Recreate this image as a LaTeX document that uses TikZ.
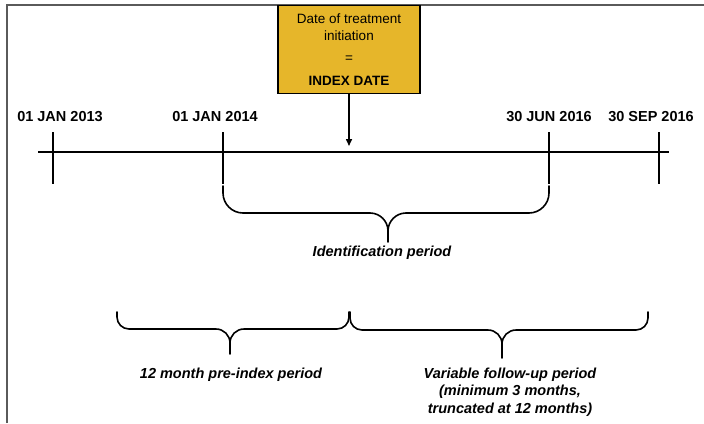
\documentclass[tikz,border=0pt]{standalone}
\usepackage{fontspec}
\setmainfont{Liberation Sans}
\usetikzlibrary{arrows.meta}
\definecolor{indexgold}{RGB}{230,182,42}
\definecolor{framegray}{RGB}{90,90,90}

% Curly brace with upturned ends and a downward point:
% #1 left x, #2 middle x, #3 right x, #4 end y, #5 bar y, #6 tip y,
% #7 end radius, #8 middle radius
\newcommand\periodbrace[8]{%
  \draw[bracepath]
    (#1,#4) -- ({#1},{#5-#7})
      .. controls ({#1},{#5-0.45*#7}) and ({#1+0.45*#7},{#5}) .. ({#1+#7},{#5})
      -- ({#2-#8},{#5})
      .. controls ({#2-0.45*#8},{#5}) and ({#2},{#5+0.45*#8}) .. ({#2},{#5+#8})
      -- (#2,#6)
    (#3,#4) -- ({#3},{#5-#7})
      .. controls ({#3},{#5-0.45*#7}) and ({#3-0.45*#7},{#5}) .. ({#3-#7},{#5})
      -- ({#2+#8},{#5})
      .. controls ({#2+0.45*#8},{#5}) and ({#2},{#5+0.45*#8}) .. ({#2},{#5+#8});
}

\begin{document}
\begin{tikzpicture}[x=1pt,y=-1pt,
  datelabel/.style={font=\fontsize{14.5}{17}\selectfont\bfseries, inner sep=0pt, anchor=base},
  periodlabel/.style={font=\fontsize{14.5}{17.5}\selectfont\bfseries\itshape,
    align=center, inner sep=0pt, anchor=north},
  indexbox/.style={draw=black, line width=1.8pt, fill=indexgold,
    minimum width=142pt, minimum height=88pt, inner sep=0pt,
    align=center, font=\fontsize{13.5}{17}\selectfont},
  axisline/.style={line width=1.6pt},
  tickmark/.style={line width=1.6pt},
  bracepath/.style={line width=1.6pt, line cap=round, line join=round},
  pointer/.style={line width=1.5pt, -{Triangle[width=6pt,length=7pt]}, shorten >=6pt}]

\useasboundingbox (0,0) rectangle (704,423);

% outer frame (top and left edges)
\draw[framegray, line width=2pt] (7,423) -- (7,5) -- (704,5);

% timeline
\coordinate (tstart) at (38,152);
\coordinate (tend)   at (669,152);
\draw[axisline] (tstart) -- (tend);

\foreach \name/\x in {t2013/53, t2014/223, tjun16/549, tsep16/659}{
  \coordinate (\name top) at (\x,132);
  \coordinate (\name bot) at (\x,184);
  \draw[tickmark] (\name top) -- (\name bot);
}

% date labels
\node[datelabel] (l2013)  at (60,121)  {01 JAN 2013};
\node[datelabel] (l2014)  at (215,121) {01 JAN 2014};
\node[datelabel] (ljun16) at (549,121) {30 JUN 2016};
\node[datelabel] (lsep16) at (651,121) {30 SEP 2016};

% index date box and pointer
\node[indexbox] (index) at (349,49.5)
  {Date of treatment\\initiation\\[5pt]=\\[6pt]\textbf{INDEX DATE}};
\coordinate (indexpt) at (349,152);
\draw[pointer] (index.south) -- (indexpt);

% identification period brace
\periodbrace{223}{388}{549}{186}{213}{242}{20}{18}
\node[periodlabel] (ident) at (382,245.5) {Identification period};

% pre-index brace
\periodbrace{117}{230}{349}{312}{329}{354}{12}{14}
\node[periodlabel] (pre) at (231,367.5) {12 month pre-index period};

% follow-up brace
\periodbrace{350}{502}{648}{312}{330}{358}{12}{14}
\node[periodlabel] (follow) at (510,367.5)
  {Variable follow-up period\\(minimum 3 months,\\truncated at 12 months)};

\end{tikzpicture}
\end{document}
